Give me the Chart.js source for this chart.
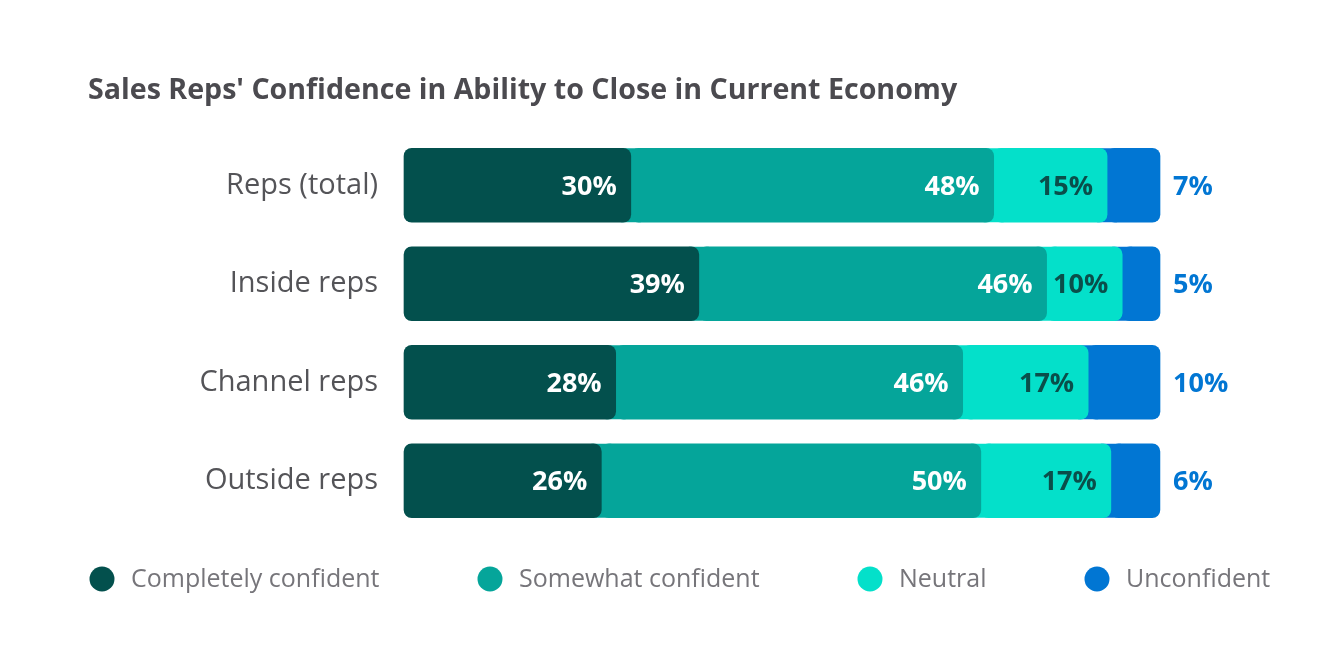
<!DOCTYPE html>
<html>
<head>
<meta charset="utf-8">
<script src="https://cdn.jsdelivr.net/npm/chart.js@4.4.1/dist/chart.umd.min.js"></script>
<style>
  html, body { margin: 0; padding: 0; background: #ffffff; }
  #wrap { position: relative; width: 1334px; height: 658px; }
</style>
</head>
<body>
<div id="wrap"><canvas id="c" width="1334" height="658"></canvas></div>
<script>
const titleText = "Sales Reps' Confidence in Ability to Close in Current Economy";
const categories = ["Reps (total)", "Inside reps", "Channel reps", "Outside reps"];
const seriesNames = ["Completely confident", "Somewhat confident", "Neutral", "Unconfident"];
// shares in %; printed labels are these rounded
const completelyConfident = [30, 39, 28.0, 26.1];
const somewhatConfident = [48, 46, 45.9, 50.2];
const neutral = [15, 10, 16.6, 17.2];
const unconfident = [7, 5, 9.5, 6.49];

const colors = ["#03504d", "#05a59a", "#04e0ca", "#0176d3"];
const labelColors = ["#ffffff", "#ffffff", "#0a4e4a", "#0176d3"];
const legendX = [102, 490, 870, 1097];

const seriesValues = [completelyConfident, somewhatConfident, neutral, unconfident];

const datasets = seriesValues.map((vals, i) => ({
  label: seriesNames[i],
  data: vals,
  backgroundColor: colors[i],
  borderWidth: 0,
  borderSkipped: false,
  borderRadius: {topLeft: 8, topRight: 8, bottomLeft: 8, bottomRight: 8},
  barThickness: 74,
  clip: false
}));

// Fill behind rounded joins with the following segment's colour
const joinFill = {
  id: 'joinFill',
  beforeDatasetsDraw(chart) {
    const ctx = chart.ctx;
    ctx.save();
    chart.data.datasets.forEach((ds, i) => {
      if (i === 0) return;
      const meta = chart.getDatasetMeta(i);
      meta.data.forEach(bar => {
        const p = bar.getProps(['x', 'y', 'base', 'height'], true);
        ctx.fillStyle = ds.backgroundColor;
        ctx.fillRect(p.base - 10, p.y - p.height / 2, 20, p.height);
      });
    });
    ctx.restore();
  }
};

const decorations = {
  id: 'decorations',
  afterDraw(chart) {
    const ctx = chart.ctx;
    const area = chart.chartArea;
    ctx.save();
    // title
    ctx.font = "bold 28.6px 'Open Sans', sans-serif";
    ctx.fillStyle = "#4b4a4f";
    ctx.textAlign = "left";
    ctx.textBaseline = "middle";
    ctx.fillText(titleText, 88, 91);

    // value labels
    ctx.font = "bold 27px 'Open Sans', sans-serif";
    chart.data.datasets.forEach((ds, i) => {
      const meta = chart.getDatasetMeta(i);
      meta.data.forEach((bar, j) => {
        const p = bar.getProps(['x', 'y'], true);
        const txt = Math.round(ds.data[j]) + "%";
        ctx.fillStyle = labelColors[i];
        if (i === chart.data.datasets.length - 1) {
          ctx.textAlign = "left";
          ctx.fillText(txt, area.right + 13, p.y + 2);
        } else {
          ctx.textAlign = "right";
          ctx.fillText(txt, p.x - 14, p.y + 2);
        }
      });
    });

    // legend
    ctx.font = "25px 'Open Sans', sans-serif";
    chart.data.datasets.forEach((ds, i) => {
      const cx = legendX[i];
      const cy = 579;
      ctx.beginPath();
      ctx.arc(cx, cy, 12.5, 0, Math.PI * 2);
      ctx.fillStyle = ds.backgroundColor;
      ctx.fill();
      ctx.fillStyle = "#76757a";
      ctx.textAlign = "left";
      ctx.fillText(ds.label, cx + 29, cy + 1);
    });
    ctx.restore();
  }
};

new Chart(document.getElementById('c'), {
  type: 'bar',
  data: { labels: categories, datasets: datasets },
  options: {
    indexAxis: 'y',
    responsive: false,
    animation: false,
    layout: { padding: { top: 136, bottom: 128, left: 0, right: 174 } },
    plugins: {
      legend: { display: false },
      title: { display: false },
      tooltip: { enabled: false }
    },
    scales: {
      x: { stacked: true, min: 0, max: 100, display: false },
      y: {
        stacked: true,
        grid: { display: false, drawTicks: false },
        border: { display: false },
        ticks: {
          padding: 26,
          color: "#545458",
          font: { family: "'Open Sans', sans-serif", size: 29 }
        },
        afterFit(scale) { scale.width = 404; }
      }
    }
  },
  plugins: [joinFill, decorations]
});
</script>
</body>
</html>
